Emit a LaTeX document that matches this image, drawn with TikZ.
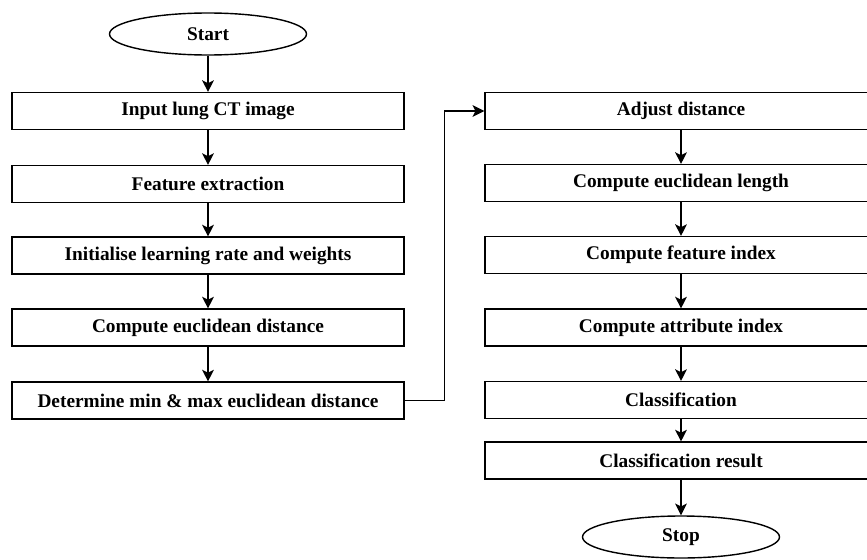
\documentclass[tikz,border=0pt]{standalone}
\usepackage{fontspec}
\setmainfont{Liberation Serif}
\usepackage{tikz}
\usetikzlibrary{arrows.meta,shapes.geometric,calc}

\begin{document}
\begin{tikzpicture}[x=0.03cm,y=-0.03cm,>={Stealth[length=10pt,width=10pt,inset=2.5pt]},line width=1.2pt,
    proc/.style={draw,minimum width=11.76cm,minimum height=1.1cm,inner sep=0pt,font=\fontsize{16.5}{20}\selectfont\bfseries},
    term/.style={draw,ellipse,minimum width=5.91cm,minimum height=1.26cm,inner sep=0pt,font=\fontsize{16.5}{20}\selectfont\bfseries}]
    \useasboundingbox (0,0) rectangle (867,560);
    \node[term] (start) at (208,34) {Start};
    \foreach \i/\y/\t in {1/111/Input lung CT image,2/184/Feature extraction,3/255.5/Initialise learning rate and weights,4/327.5/Compute euclidean distance,5/400.5/Determine min \& max euclidean distance} {
      \node[proc] (stepL\i) at (208,\y) {\t};
    }
    \foreach \i/\y/\t in {1/111/Adjust distance,2/183/Compute euclidean length,3/255/Compute feature index,4/327.5/Compute attribute index,5/400/Classification,6/460.5/Classification result} {
      \node[proc] (stepR\i) at (681,\y) {\t};
    }
    \node[term] (stop) at (681,537) {Stop};
    \draw[->] (start) -- (stepL1);
    \foreach \i in {1,...,4} {
      \draw[->] (stepL\i) -- (stepL\the\numexpr\i+1\relax);
    }
    \draw[->] (stepL5.east) -- ++(40,0) |- (stepR1.west);
    \foreach \i in {1,...,5} {
      \draw[->] (stepR\i) -- (stepR\the\numexpr\i+1\relax);
    }
    \draw[->] (stepR6) -- (stop);
\end{tikzpicture}
\end{document}
